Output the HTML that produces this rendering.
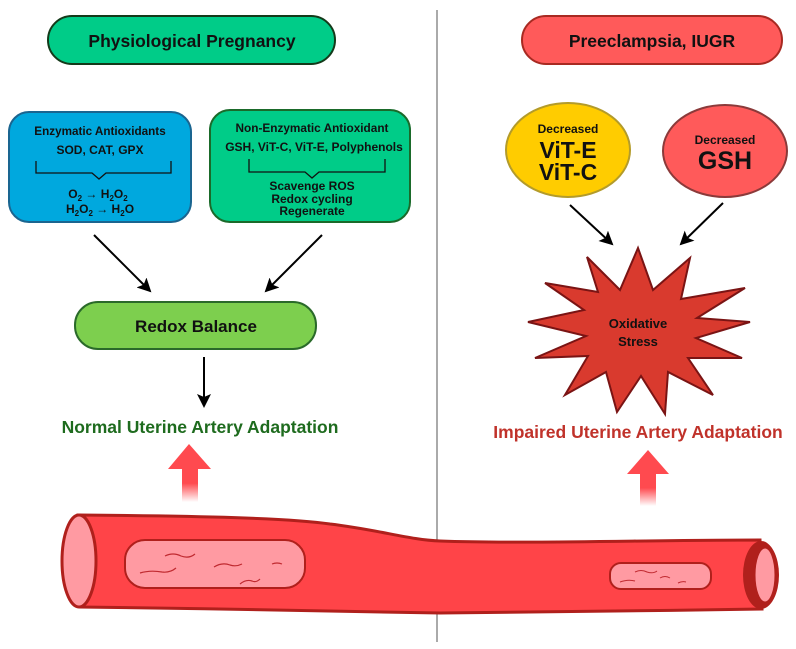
<!DOCTYPE html>
<html><head><meta charset="utf-8"><style>
html,body{margin:0;padding:0;background:#fff;}
svg{display:block;font-family:"Liberation Sans",Arial,sans-serif;font-weight:bold;}
</style></head><body>
<svg width="796" height="649" viewBox="0 0 796 649" xmlns="http://www.w3.org/2000/svg">
<defs>
<marker id="ah" markerWidth="14" markerHeight="14" refX="12" refY="7" orient="auto" markerUnits="userSpaceOnUse" viewBox="0 0 14 14">
<path d="M0,0 L14,7 L0,14 L3,7 Z" fill="#000"/></marker>
<linearGradient id="fade" x1="0" y1="0" x2="0" y2="1">
<stop offset="0" stop-color="#ff4a4f"/><stop offset="0.45" stop-color="#ff4a4f"/><stop offset="1" stop-color="#ff4a4f" stop-opacity="0"/></linearGradient>
</defs>
<line x1="437" y1="10" x2="437" y2="642" stroke="#555" stroke-width="1"/>

<!-- top pills -->
<rect x="48" y="16" width="287" height="48" rx="24" fill="#00cc88" stroke="#143a1a" stroke-width="2"/>
<text x="192" y="47" font-size="17.5" text-anchor="middle" fill="#111">Physiological Pregnancy</text>
<rect x="522" y="16" width="260" height="48" rx="24" fill="#ff5a5a" stroke="#a82a22" stroke-width="2"/>
<text x="652" y="47" font-size="17.5" text-anchor="middle" fill="#111">Preeclampsia, IUGR</text>

<!-- blue box -->
<rect x="9" y="112" width="182" height="110" rx="20" fill="#00a8de" stroke="#1a6590" stroke-width="2"/>
<text x="100" y="135" font-size="11.7" text-anchor="middle" fill="#111">Enzymatic Antioxidants</text>
<text x="100" y="154" font-size="12" text-anchor="middle" fill="#111">SOD, CAT, GPX</text>
<path d="M36,161 V173 H92 L99,179 L106,173 H171 V161" fill="none" stroke="#111" stroke-width="1.3"/>
<text x="98" y="198" font-size="12" text-anchor="middle" fill="#111">O<tspan font-size="8" dy="3">2</tspan><tspan dy="-3"> → H</tspan><tspan font-size="8" dy="3">2</tspan><tspan dy="-3">O</tspan><tspan font-size="8" dy="3">2</tspan></text>
<text x="100" y="213" font-size="12" text-anchor="middle" fill="#111">H<tspan font-size="8" dy="3">2</tspan><tspan dy="-3">O</tspan><tspan font-size="8" dy="3">2</tspan><tspan dy="-3"> → H</tspan><tspan font-size="8" dy="3">2</tspan><tspan dy="-3">O</tspan></text>

<!-- green box -->
<rect x="210" y="110" width="200" height="112" rx="20" fill="#00cc88" stroke="#1a6a2a" stroke-width="2"/>
<text x="312" y="132" font-size="11.8" text-anchor="middle" fill="#111">Non-Enzymatic Antioxidant</text>
<text x="314" y="151" font-size="12" text-anchor="middle" fill="#111">GSH, ViT-C, ViT-E, Polyphenols</text>
<path d="M249,159 V172 H305 L312,178 L319,172 H385 V159" fill="none" stroke="#111" stroke-width="1.3"/>
<text x="312" y="190" font-size="12" text-anchor="middle" fill="#111">Scavenge ROS</text>
<text x="312" y="203" font-size="12" text-anchor="middle" fill="#111">Redox cycling</text>
<text x="312" y="215" font-size="12" text-anchor="middle" fill="#111">Regenerate</text>

<!-- arrows left -->
<line x1="94" y1="235" x2="150" y2="291" stroke="#000" stroke-width="2" marker-end="url(#ah)"/>
<line x1="322" y1="235" x2="266" y2="291" stroke="#000" stroke-width="2" marker-end="url(#ah)"/>

<rect x="75" y="302" width="241" height="47" rx="23" fill="#7dcf4e" stroke="#2a6a2a" stroke-width="2"/>
<text x="196" y="332" font-size="17" text-anchor="middle" fill="#111">Redox Balance</text>

<line x1="204" y1="357" x2="204" y2="406" stroke="#000" stroke-width="2" marker-end="url(#ah)"/>
<text x="200" y="433" font-size="17.5" text-anchor="middle" fill="#1e6b1e">Normal Uterine Artery Adaptation</text>

<!-- right ellipses -->
<ellipse cx="568" cy="150" rx="62" ry="47" fill="#ffcc00" stroke="#b39b2a" stroke-width="2"/>
<text x="568" y="133" font-size="12" text-anchor="middle" fill="#111">Decreased</text>
<text x="568" y="158" font-size="23" text-anchor="middle" fill="#111">ViT-E</text>
<text x="568" y="180" font-size="23" text-anchor="middle" fill="#111">ViT-C</text>
<ellipse cx="725" cy="151" rx="62" ry="46" fill="#ff5a5a" stroke="#8b3a3a" stroke-width="2"/>
<text x="725" y="144" font-size="12" text-anchor="middle" fill="#111">Decreased</text>
<text x="725" y="169" font-size="25" text-anchor="middle" fill="#111">GSH</text>

<line x1="570" y1="205" x2="612" y2="244" stroke="#000" stroke-width="2" marker-end="url(#ah)"/>
<line x1="723" y1="203" x2="681" y2="244" stroke="#000" stroke-width="2" marker-end="url(#ah)"/>

<!-- star -->
<polygon points="638,248 653,290 690,258 681,299 745,288 697,318 750,322 696,338 742,358 688,358 713,395 668,372 665,414 641,376 617,412 606,372 565,395 588,356 535,358 586,336 528,322 584,310 545,283 598,292 587,257 620,290" fill="#d93a2e" stroke="#7a1414" stroke-width="2"/>
<text x="638" y="328" font-size="13" text-anchor="middle" fill="#111">Oxidative</text>
<text x="638" y="346" font-size="13" text-anchor="middle" fill="#111">Stress</text>

<text x="638" y="438" font-size="17.5" text-anchor="middle" fill="#c0322a">Impaired Uterine Artery Adaptation</text>

<!-- red up arrows -->
<polygon points="168,469 189,444 211,469" fill="#ff4a4f"/>
<rect x="182" y="468" width="16" height="34" fill="url(#fade)"/>
<polygon points="627,474 648,450 669,474" fill="#ff4a4f"/>
<rect x="640" y="473" width="16" height="33" fill="url(#fade)"/>

<!-- vessel -->
<path d="M78,515 C200,516 290,518 330,524 C380,530 410,540 440,541 C520,544 650,540 760,540 L762,609 C650,611 520,612 440,613 C340,612 200,608 80,607 Z" fill="#ff4448" stroke="#b0201c" stroke-width="3"/>
<ellipse cx="79" cy="561" rx="17" ry="46" fill="#ff9aa2" stroke="#b0201c" stroke-width="3"/>
<ellipse cx="761" cy="575" rx="18" ry="34" fill="#b0201c"/>
<ellipse cx="765" cy="575" rx="10" ry="27" fill="#ff9aa2" stroke="#b0201c" stroke-width="1"/>
<rect x="125" y="540" width="180" height="48" rx="20" fill="#ff9aa2" stroke="#b0201c" stroke-width="2"/>
<path d="M165,556 q8,-4 16,0 q8,3 14,-2 M214,567 q8,-5 16,-2 q6,2 12,-1 M140,573 q10,-3 22,-1 q8,1 14,-4 M240,584 q6,-5 12,-3 q4,2 8,-2 M272,564 q5,-2 10,0" fill="none" stroke="#c02a30" stroke-width="1.2"/>
<rect x="610" y="563" width="101" height="26" rx="11" fill="#ff9aa2" stroke="#b0201c" stroke-width="2"/>
<path d="M635,572 q6,-3 12,0 q6,2 10,-1 M620,582 q8,-3 15,-1 M660,578 q5,-3 10,0 M678,583 q4,-2 8,-1" fill="none" stroke="#c02a30" stroke-width="1"/>
</svg>
</body></html>
